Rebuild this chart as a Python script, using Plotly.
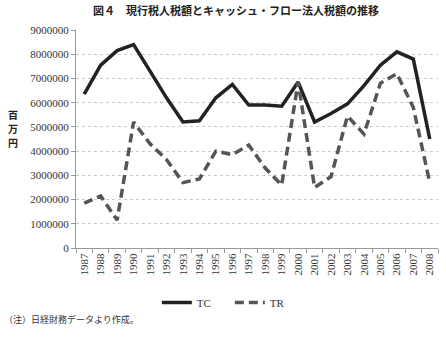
import plotly.graph_objects as go

years = [str(y) for y in range(1987, 2009)]
tc = [6350000, 7550000, 8150000, 8400000, 7300000, 6200000, 5200000, 5250000, 6200000, 6750000,
      5900000, 5900000, 5850000, 6850000, 5200000, 5550000, 5950000, 6700000, 7550000, 8100000,
      7800000, 4500000]
tr = [1850000, 2150000, 1150000, 5200000, 4300000, 3650000, 2700000, 2850000, 4000000, 3850000,
      4250000, 3300000, 2600000, 6850000, 2500000, 2950000, 5450000, 4700000, 6800000, 7200000,
      5800000, 2700000]
yticks = list(range(0, 9000001, 1000000))

serif = "Liberation Serif"
jp = "Noto Sans CJK JP"

fig = go.Figure()
fig.add_trace(go.Scatter(x=years, y=tc, name="TC", mode="lines",
                         line=dict(color="#222222", width=3.5)))
fig.add_trace(go.Scatter(x=years, y=tr, name="TR", mode="lines",
                         line=dict(color="#555555", width=3.5, dash="9px,5px")))

fig.update_layout(
    width=446, height=337,
    margin=dict(l=76, r=8, t=30, b=89),
    paper_bgcolor="white", plot_bgcolor="white",
    showlegend=True,
    legend=dict(orientation="h", x=0.425, xanchor="center", y=-0.25, yanchor="middle",
                font=dict(family=serif, size=11, color="#333333"),
                entrywidth=28, entrywidthmode="pixels", traceorder="normal"),
    xaxis=dict(type="category", range=[-0.5, 21.5], tickson="boundaries",
               ticks="outside", ticklen=4, tickcolor="#999999",
               showline=True, linecolor="#999999", linewidth=1,
               showgrid=False, tickangle=-90,
               tickfont=dict(family=serif, size=11, color="#333333")),
    yaxis=dict(range=[0, 9000000], tickvals=yticks, ticktext=[str(v) for v in yticks],
               ticks="outside", ticklen=4, tickcolor="#999999",
               showline=True, linecolor="#999999", linewidth=1,
               showgrid=True, gridcolor="#cccccc", griddash="dot", gridwidth=1,
               zeroline=False,
               tickfont=dict(family=serif, size=11, color="#333333")),
)

fig.add_annotation(text="<b>図４　現行税人税額とキャッシュ・フロー法人税額の推移</b>",
                   xref="paper", yref="paper", x=0.443, y=1.09, xanchor="center", yanchor="middle",
                   showarrow=False, font=dict(family=jp, size=11, color="#222222"))
for i, ch in enumerate(["百", "万", "円"]):
    fig.add_annotation(text="<b>" + ch + "</b>",
                       xref="paper", yref="paper", x=-0.175, y=(248 - (114 + 14 * i)) / 218,
                       xanchor="center", yanchor="middle", borderpad=0,
                       showarrow=False, font=dict(family=jp, size=10, color="#222222"))
fig.add_annotation(text="（注）日経財務データより作成。",
                   xref="paper", yref="paper", x=-0.205, y=-0.33, xanchor="left", yanchor="middle",
                   showarrow=False, font=dict(family=jp, size=9, color="#333333"))

fig.write_html("out.html")
